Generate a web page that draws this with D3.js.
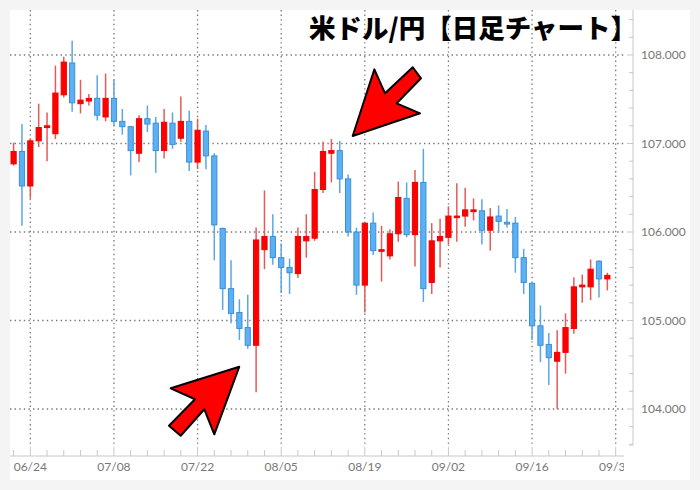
<!DOCTYPE html>
<html><head><meta charset="utf-8">
<script src="https://cdn.jsdelivr.net/npm/d3@7"></script>
<style>html,body{margin:0;padding:0;background:#f4f4f4;}svg{display:block;}</style>
</head><body>
<svg id="c" width="700" height="490"></svg>
<script>
const title = "米ドル/円【日足チャート】";
const days = ["06/22","06/23","06/24","06/25","06/26","06/29","06/30","07/01","07/02","07/03",
"07/06","07/07","07/08","07/09","07/10","07/13","07/14","07/15","07/16","07/17",
"07/20","07/21","07/22","07/23","07/24","07/27","07/28","07/29","07/30","07/31",
"08/03","08/04","08/05","08/06","08/07","08/10","08/11","08/12","08/13","08/14",
"08/17","08/18","08/19","08/20","08/21","08/24","08/25","08/26","08/27","08/28",
"08/31","09/01","09/02","09/03","09/04","09/07","09/08","09/09","09/10","09/11",
"09/14","09/15","09/16","09/17","09/18","09/21","09/22","09/23","09/24","09/25",
"09/28","09/29","09/30"];
const open  = [106.77,106.91,106.52,107.03,107.18,107.11,107.55,107.91,107.45,107.48,
107.51,107.30,107.51,107.25,107.19,106.89,107.28,107.23,106.92,107.23,
107.06,107.25,106.79,107.14,106.86,106.04,105.36,105.09,104.92,104.72,
105.80,105.95,105.71,105.60,105.53,105.90,105.93,106.48,106.89,106.92,
106.60,106.00,105.40,106.10,105.79,105.73,105.98,106.38,105.97,106.56,
105.43,105.90,105.94,106.17,106.18,106.23,106.24,106.02,106.18,106.11,
106.10,105.71,105.42,104.94,104.73,104.54,104.64,104.91,105.38,105.38,
105.67,105.47];
const high  = [107.01,107.22,107.06,107.45,107.35,107.88,107.98,108.16,107.72,107.56,
107.77,107.79,107.72,107.39,107.20,107.32,107.43,107.30,107.39,107.35,
107.53,107.37,107.28,107.21,106.89,106.05,105.68,105.24,105.29,106.05,
106.47,106.20,105.87,105.70,106.05,106.20,106.68,107.02,107.05,107.03,
106.65,106.05,106.10,106.22,106.07,106.03,106.57,106.56,106.70,106.94,
106.10,106.15,106.29,106.55,106.50,106.38,106.37,106.27,106.30,106.26,
106.17,105.81,105.43,105.17,104.86,104.89,105.08,105.49,105.52,105.69,
105.68,105.54];
const low   = [106.75,106.07,106.38,106.96,106.80,107.05,107.52,107.36,107.34,107.43,
107.26,107.25,107.20,107.10,106.64,106.79,107.13,106.67,106.83,106.94,
107.02,106.69,106.71,106.71,105.68,105.12,104.97,104.78,104.68,104.19,
105.58,105.63,105.31,105.30,105.48,105.71,105.90,106.44,106.56,106.44,
105.95,105.29,105.09,105.74,105.44,105.69,105.89,105.94,105.61,105.21,
105.30,105.60,105.86,105.89,106.06,106.13,105.86,105.79,105.99,106.05,
105.54,105.30,104.78,104.53,104.27,104.00,104.40,104.85,105.20,105.23,
105.26,105.34];
const close = [106.91,106.52,107.03,107.18,107.20,107.57,107.92,107.46,107.49,107.51,
107.32,107.51,107.25,107.19,106.92,107.28,107.22,106.92,107.24,106.99,
107.25,106.79,107.15,106.86,106.08,105.36,105.08,104.91,104.72,105.91,
105.95,105.71,105.60,105.54,105.95,105.95,106.48,106.91,106.92,106.60,
106.00,105.40,106.10,105.79,105.80,105.98,106.39,105.97,106.56,105.36,
105.90,105.95,106.18,106.18,106.25,106.25,106.02,106.17,106.12,106.09,
105.71,105.43,104.94,104.72,104.58,104.64,104.92,105.38,105.40,105.58,
105.47,105.51];
const xTickLabels = ["06/24","07/08","07/22","08/05","08/19","09/02","09/16","09/30"];
const yTicks = [104,105,106,107,108];
// annotation arrows in data units [day index, price]
const arrowUp = [[26.99,104.478],[24.0,103.714],[22.81,103.997],[19.98,103.698],[18.58,103.811],[21.69,104.110],[18.79,104.234]];
const arrowDown = [[40.55,107.085],[43.14,107.838],[44.42,107.567],[47.73,107.861],[48.72,107.737],[45.81,107.454],[48.60,107.341]];

const svg = d3.select("#c");
const W = 700, H = 490;
const plot = {left:10, top:10, right:624, bottom:445};
const x = d3.scaleLinear().domain([0, 72]).range([13.6, 615.7]);
const y = d3.scaleLinear().domain([104, 108]).range([409, 55]);
const yMin = y.invert(plot.bottom), yMax = y.invert(plot.top);

svg.append("rect").attr("width",W).attr("height",H).attr("fill","#f4f4f4");
svg.append("rect").attr("x",10).attr("y",10).attr("width",680).attr("height",470).attr("fill","#fff");

const defs = svg.append("defs");
defs.append("clipPath").attr("id","pc").append("rect")
  .attr("x",plot.left).attr("y",plot.top).attr("width",plot.right-plot.left).attr("height",plot.bottom-plot.top);
defs.append("clipPath").attr("id","xc").append("rect")
  .attr("x",plot.left).attr("y",440).attr("width",plot.right-plot.left).attr("height",45);

// grid
const grid = svg.append("g").attr("stroke","#777").attr("stroke-width",1.3).attr("stroke-dasharray","1.4 3.2");
grid.selectAll("line.h").data(yTicks).join("line")
  .attr("x1",plot.left).attr("x2",plot.right).attr("y1",d=>y(d)).attr("y2",d=>y(d));
const tickIdx = xTickLabels.map(l => days.indexOf(l));
grid.selectAll("line.v").data(tickIdx).join("line")
  .attr("y1",plot.top).attr("y2",plot.bottom).attr("x1",d=>x(d)).attr("x2",d=>x(d));

// right axis
const yAxisG = svg.append("g").attr("transform","translate(633,0)");
yAxisG.append("line").attr("x1",0).attr("x2",0).attr("y1",plot.top).attr("y2",plot.bottom).attr("stroke","#c8c8c8");
const minorY = d3.range(Math.ceil(yMin*5), Math.floor(yMax*5)+1).map(v=>v/5);
yAxisG.selectAll("line.t").data(minorY).join("line")
  .attr("x1",d=>Math.abs(d-Math.round(d))<1e-6?-6:-4).attr("x2",0)
  .attr("y1",d=>y(d)).attr("y2",d=>y(d)).attr("stroke","#c8c8c8");
yAxisG.append("line").attr("x1",-4).attr("x2",0).attr("y1",plot.bottom).attr("y2",plot.bottom).attr("stroke","#c8c8c8");
yAxisG.selectAll("text").data(yTicks).join("text")
  .attr("x",8).attr("y",d=>y(d)).attr("dy","0.35em")
  .attr("font-family","Lato, sans-serif").attr("font-size",12).attr("fill","#777")
  .text(d=>d3.format(".3f")(d));

// bottom axis
const xAxisG = svg.append("g").attr("clip-path","url(#xc)");
xAxisG.append("line").attr("x1",plot.left).attr("x2",plot.right).attr("y1",456).attr("y2",456).attr("stroke","#c8c8c8");
const minorX = d3.range(0, 73, 2);
xAxisG.selectAll("line.t").data(minorX).join("line")
  .attr("x1",d=>x(d)).attr("x2",d=>x(d))
  .attr("y1",d=>tickIdx.includes(d)?447:450).attr("y2",456).attr("stroke","#c8c8c8");
xAxisG.selectAll("text").data(xTickLabels).join("text")
  .attr("x",d=>x(days.indexOf(d))).attr("y",470.5).attr("text-anchor","middle")
  .attr("font-family","Lato, sans-serif").attr("font-size",12).attr("fill","#777")
  .text(d=>d);

// candles
const candles = d3.range(open.length).map(i=>({i, o:open[i], h:high[i], l:low[i], c:close[i], up: close[i]>=open[i]}));
const cg = svg.append("g").attr("clip-path","url(#pc)");
cg.selectAll("line.w").data(candles).join("line")
  .attr("x1",d=>x(d.i)).attr("x2",d=>x(d.i))
  .attr("y1",d=>y(d.h)).attr("y2",d=>y(d.l))
  .attr("stroke",d=>d.up?"#e65a5a":"#5aa6e6").attr("stroke-width",1.5);
cg.selectAll("rect.b").data(candles).join("rect")
  .attr("x",d=>x(d.i)-2.6).attr("width",5.2)
  .attr("y",d=>Math.min(y(d.o),y(d.c)))
  .attr("height",d=>Math.max(1.6, Math.abs(y(d.o)-y(d.c))))
  .attr("fill",d=>d.up?"#ff0000":"#5cb1f5")
  .attr("stroke",d=>d.up?"#f00000":"#3d8ed8").attr("stroke-width",1);

// arrows
const line = d3.line().x(d=>x(d[0])).y(d=>y(d[1])).curve(d3.curveLinearClosed);
svg.selectAll("path.arrow").data([arrowUp, arrowDown]).join("path")
  .attr("d", line).attr("fill","#ff0000").attr("stroke","#000").attr("stroke-width",2).attr("stroke-linejoin","round");

// title
svg.append("text").attr("x",637).attr("y",38).attr("text-anchor","end")
  .attr("font-family","'Noto Sans CJK JP', sans-serif").attr("font-weight",900)
  .attr("font-size",26.5).attr("fill","#000").text(title);
</script>
</body></html>
